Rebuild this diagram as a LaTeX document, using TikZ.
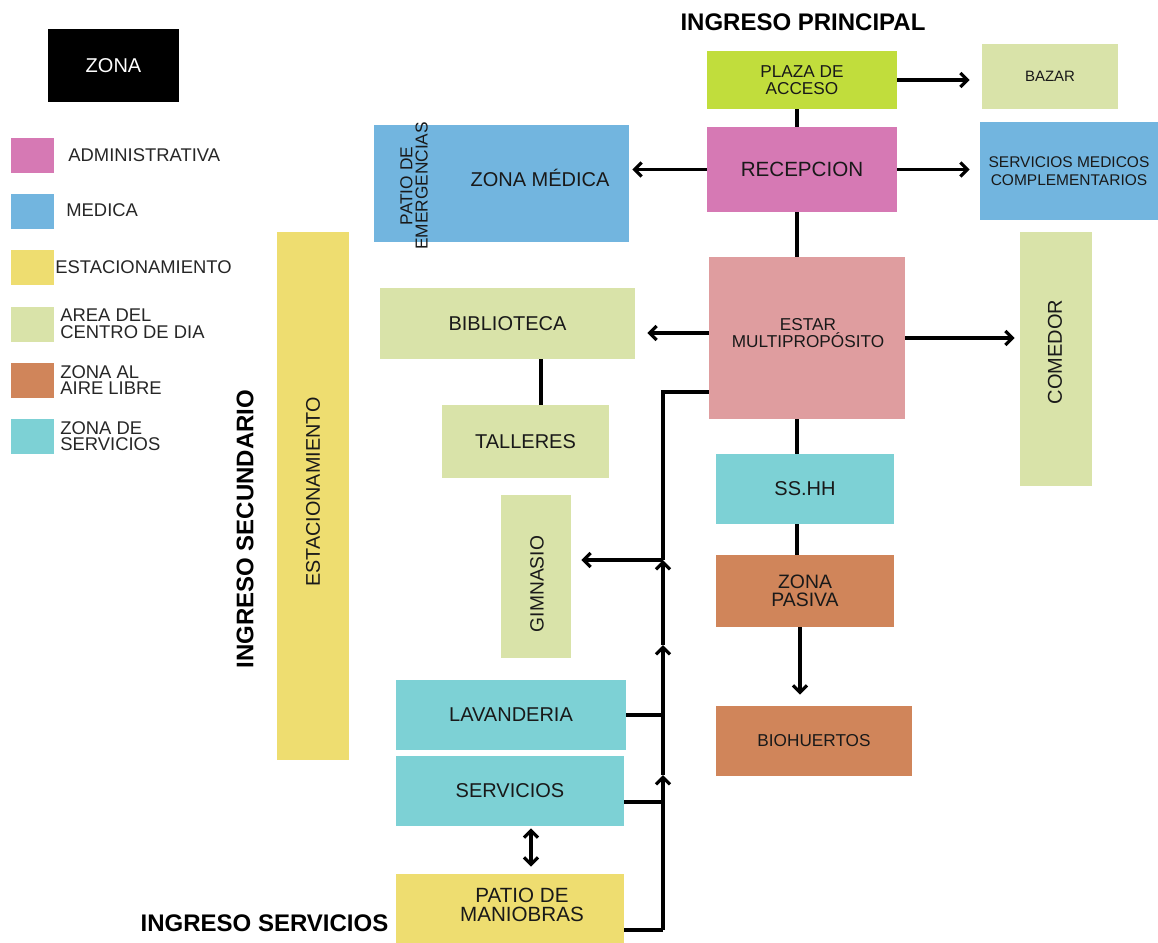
\documentclass[tikz,border=0pt]{standalone}
\usepackage{fontspec}
\setmainfont{Liberation Sans}
\usetikzlibrary{arrows.meta, positioning, calc}

\definecolor{admin}{HTML}{D679B4}
\definecolor{medica}{HTML}{72B5DF}
\definecolor{estac}{HTML}{EEDD70}
\definecolor{centro}{HTML}{D9E3A9}
\definecolor{aire}{HTML}{D0855A}
\definecolor{serv}{HTML}{7DD1D5}
\definecolor{plaza}{HTML}{C1DD3C}
\definecolor{estar}{HTML}{DF9D9F}

\begin{document}
\begin{tikzpicture}[x=0.5pt, y=-0.5pt,
    caja/.style={rectangle, inner sep=0pt, align=center, text=black!90, font=\fontsize{10}{9.4}\selectfont},
    chica/.style={font=\fontsize{8.6}{8.5}\selectfont},
    muestra/.style={rectangle, inner sep=0pt, minimum width=21.5pt, minimum height=17.5pt},
    leyenda/.style={anchor=west, inner sep=0pt, align=left, text=black!85, font=\fontsize{9.2}{8.3}\selectfont},
    titulo/.style={inner sep=0pt, font=\fontsize{12}{12}\selectfont\bfseries},
    linea/.style={line width=1.6pt},
    flecha/.style={line width=1.6pt, -{Straight Barb[length=3.5pt, width=7pt]}},
    doble/.style={line width=1.6pt, {Straight Barb[length=3.5pt, width=7pt]}-{Straight Barb[length=3.5pt, width=7pt]}}]

    \useasboundingbox (0,0) rectangle (1158,943);

    % Leyenda
    \node[caja, fill=black, text=white, minimum width=65.5pt, minimum height=36.5pt] (zona) at (113.5,65.5) {ZONA};
    \foreach \col/\y/\nom in {admin/155.5/adm, medica/211.5/med, estac/267.5/est, centro/324/cen, aire/380.5/air, serv/436.5/ser}
        \node[muestra, fill=\col] (\nom) at (32.5,\y) {};
    \node[leyenda] (tadm) at (68,155) {ADMINISTRATIVA};
    \node[leyenda] (tmed) at (66,210) {MEDICA};
    \node[leyenda] (test) at (55,267) {ESTACIONAMIENTO};
    \node[leyenda] (tcen) at (60,324) {AREA DEL\\CENTRO DE DIA};
    \node[leyenda] (tair) at (60,380) {ZONA AL\\AIRE LIBRE};
    \node[leyenda] (tser) at (60,436) {ZONA DE\\SERVICIOS};

    % Ingresos
    \node[titulo] (ingp) at (803,22) {INGRESO PRINCIPAL};
    \node[titulo] (ings) at (264.5,923) {INGRESO SERVICIOS};
    \node[titulo, rotate=90] (ingsec) at (245,529) {INGRESO SECUNDARIO};

    % Zonas del centro
    \node[caja, chica, fill=plaza, minimum width=95pt, minimum height=29pt] (plaza) at (802,80) {PLAZA DE\\ACCESO};
    \node[caja, fill=centro, font=\fontsize{7.5}{7.5}\selectfont, minimum width=68pt, minimum height=32.5pt] (bazar) at (1050,76.5) {BAZAR};
    \node[caja, fill=admin, font=\fontsize{10.3}{10}\selectfont, minimum width=95pt, minimum height=42.5pt] (recep) at (802,169.5) {RECEPCION};
    \node[caja, fill=medica, font=\fontsize{7.75}{9.3}\selectfont, minimum width=89pt, minimum height=49pt] (smc) at (1069,171) {SERVICIOS MEDICOS\\COMPLEMENTARIOS};
    \node[caja, fill=medica, minimum width=127.5pt, minimum height=58.5pt] (zmed) at (501.5,183.5) {};
    \node[caja] (tzmed) at (540,178) {ZONA MÉDICA};
    \node[caja, chica, font=\fontsize{8.65}{7.6}\selectfont, rotate=90] (temer) at (414,186) {PATIO DE\\EMERGENCIAS};
    \node[caja, fill=estac, minimum width=36pt, minimum height=264pt] (estac) at (313,496) {};
    \node[caja, font=\fontsize{9.9}{9.9}\selectfont, rotate=90] (testac) at (313,492) {ESTACIONAMIENTO};
    \node[caja, fill=centro, minimum width=127.5pt, minimum height=35.5pt] (biblio) at (507.5,323.5) {BIBLIOTECA};
    \node[caja, fill=estar, minimum width=98pt, minimum height=81pt] (estar) at (807,338) {};
    \node[caja, chica] (testar) at (808,333) {ESTAR\\MULTIPROPÓSITO};
    \node[caja, fill=centro, minimum width=36pt, minimum height=127pt] (comedor) at (1056,359) {};
    \node[caja, rotate=90] (tcomedor) at (1055,352) {COMEDOR};
    \node[caja, fill=centro, minimum width=83.5pt, minimum height=36.5pt] (talleres) at (525.5,441.5) {TALLERES};
    \node[caja, fill=serv, minimum width=89pt, minimum height=35pt] (sshh) at (805,489) {SS.HH};
    \node[caja, fill=centro, minimum width=35pt, minimum height=81.5pt] (gimnasio) at (536,576.5) {};
    \node[caja, font=\fontsize{9.6}{9.6}\selectfont, rotate=90] (tgimnasio) at (537,584) {GIMNASIO};
    \node[caja, fill=aire, font=\fontsize{9.7}{9}\selectfont, minimum width=89pt, minimum height=36pt] (zpasiva) at (805,591) {ZONA\\PASIVA};
    \node[caja, chica, fill=aire, minimum width=98pt, minimum height=35pt] (biohuertos) at (814,741) {BIOHUERTOS};
    \node[caja, fill=serv, minimum width=115pt, minimum height=35pt] (lavanderia) at (511,715) {LAVANDERIA};
    \node[caja, fill=serv, minimum width=114pt, minimum height=35pt] (servicios) at (510,791) {SERVICIOS};
    \node[caja, fill=estac, minimum width=114pt, minimum height=34.5pt] (maniobras) at (510,908.5) {};
    \node[caja, font=\fontsize{10.3}{9.5}\selectfont] (tmaniobras) at (522,905) {PATIO DE\\MANIOBRAS};

    % Eje central
    \coordinate (eje) at (797,0);
    \draw[linea] (plaza.south -| eje) -- (recep.north -| eje);
    \draw[linea] (recep.south -| eje) -- (estar.north -| eje);
    \draw[linea] (estar.south -| eje) -- (sshh.north -| eje);
    \draw[linea] (sshh.south -| eje) -- (zpasiva.north -| eje);
    \draw[flecha, shorten >=5.5pt] ([xshift=1.5pt]zpasiva.south -| eje) -- ([xshift=1.5pt]biohuertos.north -| eje);

    % Relaciones laterales
    \draw[flecha, shorten >=6pt] (plaza.east) -- (plaza.east -| bazar.west);
    \draw[flecha, shorten >=1.5pt] (recep.west) -- (recep.west -| zmed.east);
    \draw[flecha, shorten >=5pt] (recep.east) -- (recep.east -| smc.west);
    \draw[flecha, shorten >=6pt] ([yshift=2.5pt]estar.west) -- ([yshift=2.5pt]estar.west -| biblio.east);
    \draw[flecha, shorten >=2.5pt] (estar.east) -- (estar.east -| comedor.west);
    \draw[linea] ([xshift=16.75pt]biblio.south) -- ([xshift=16.75pt]biblio.south |- talleres.north);
    \draw[doble, shorten <=1pt, shorten >=3.5pt] ([xshift=10.5pt]servicios.south) -- ([xshift=10.5pt]servicios.south |- maniobras.north);

    % Recorrido de servicio
    \coordinate (ta) at (663,930);
    \coordinate (tb) at (663,775);
    \coordinate (tc) at (663,645);
    \coordinate (td) at (663,560);
    \coordinate (te) at (663,392);
    \draw[linea] (maniobras.east |- ta) -- (ta);
    \draw[flecha] (ta) -- (tb);
    \draw[flecha] (tb) -- (tc);
    \draw[flecha] (tc) -- (td);
    \draw[linea] (td) -- (te) -- (te -| estar.west);
    \draw[flecha, shorten >=5pt] (td) -- (td -| gimnasio.east);
    \draw[linea] (lavanderia.east) -- (lavanderia.east -| ta);
    \draw[linea] ([yshift=-5.5pt]servicios.east) -- ([yshift=-5.5pt]servicios.east -| ta);

\end{tikzpicture}
\end{document}
